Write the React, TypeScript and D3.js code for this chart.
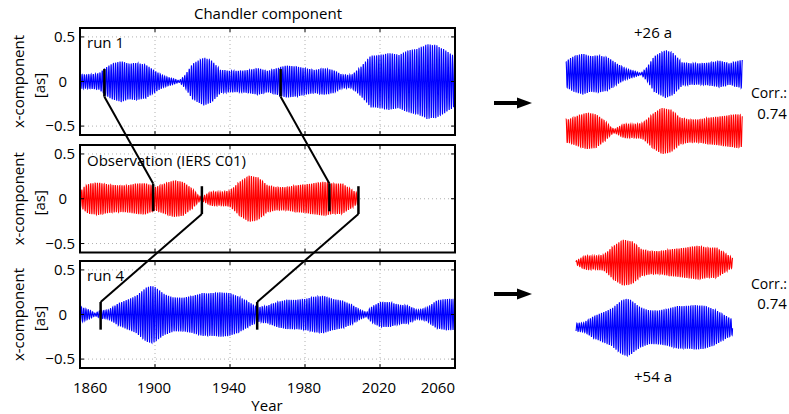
import React, { useEffect, useRef } from 'react';
import * as d3 from 'd3';

const W = 789;
const H = 414;
const FONT = "'Open Sans', sans-serif";

// Chandler wobble period in years (~433 days), monthly samples
const CHANDLER_PERIOD = 1.19;
const SAMPLE_STEP = 1 / 12;

const yearTicks = [1860, 1900, 1940, 1980, 2020, 2060];
const valueTicks = [-0.5, 0, 0.5];

// envelope (amplitude in [as])
const run1Years = [1860, 1865, 1870, 1874, 1877, 1882, 1886, 1890, 1895, 1900, 1905, 1910, 1913, 1916, 1920, 1926, 1930, 1935, 1940, 1945, 1950, 1955, 1960, 1965, 1970, 1975, 1980, 1985, 1990, 1995, 2000, 2005, 2010, 2015, 2020, 2025, 2030, 2035, 2040, 2045, 2050, 2055, 2060];
const run1Amp = [0.08, 0.08, 0.09, 0.16, 0.2, 0.23, 0.2, 0.21, 0.19, 0.12, 0.06, 0.03, 0.01, 0.07, 0.2, 0.27, 0.24, 0.13, 0.12, 0.12, 0.13, 0.15, 0.12, 0.15, 0.18, 0.17, 0.15, 0.13, 0.15, 0.13, 0.075, 0.075, 0.17, 0.29, 0.3, 0.32, 0.3, 0.35, 0.37, 0.42, 0.41, 0.35, 0.28];

const obsYears = [1860, 1862, 1865, 1870, 1875, 1880, 1885, 1890, 1895, 1900, 1905, 1910, 1915, 1920, 1923, 1925, 1930, 1935, 1940, 1945, 1950, 1955, 1960, 1965, 1970, 1975, 1980, 1985, 1990, 1995, 2000, 2005, 2008.5];
const obsAmp = [0.075, 0.13, 0.17, 0.18, 0.16, 0.15, 0.15, 0.17, 0.175, 0.13, 0.17, 0.205, 0.19, 0.11, 0.04, 0.02, 0.08, 0.075, 0.09, 0.19, 0.26, 0.24, 0.15, 0.13, 0.13, 0.15, 0.16, 0.175, 0.19, 0.17, 0.17, 0.1, 0.055];

const run4Years = [1860, 1865, 1868, 1871, 1875, 1878, 1880, 1885, 1890, 1895, 1898, 1900, 1905, 1910, 1915, 1920, 1925, 1930, 1935, 1940, 1945, 1950, 1955, 1960, 1965, 1970, 1975, 1980, 1985, 1990, 1995, 2000, 2005, 2010, 2013, 2015, 2020, 2025, 2030, 2035, 2040, 2045, 2050, 2055, 2060];
const run4Amp = [0.09, 0.05, 0.015, 0.045, 0.05, 0.09, 0.12, 0.165, 0.21, 0.3, 0.325, 0.31, 0.23, 0.19, 0.19, 0.21, 0.24, 0.24, 0.25, 0.24, 0.2, 0.14, 0.08, 0.1, 0.14, 0.165, 0.165, 0.175, 0.2, 0.21, 0.175, 0.155, 0.11, 0.045, 0.025, 0.08, 0.14, 0.14, 0.11, 0.1, 0.05, 0.075, 0.155, 0.175, 0.175];

// matched epochs (obs = run + shift)
const run1Marks = [1873, 1967];
const obsMarks1 = [1899, 1993];
const obsMarks4 = [1925, 2008.5];
const run4Marks = [1871, 1954.5];

type Pt = { t: number; v: number };

const buildSeries = (years: number[], amps: number[], phase: number): Pt[] => {
  const env = d3.scaleLinear().domain(years).range(amps).clamp(true);
  const t0 = years[0];
  const t1 = years[years.length - 1];
  return d3.range(t0, t1 + 0.001, SAMPLE_STEP).map((t) => ({
    t,
    v: env(t) * Math.cos((2 * Math.PI * (t - 1860)) / CHANDLER_PERIOD + phase),
  }));
};

const App = () => {
  const ref = useRef<SVGSVGElement>(null);

  useEffect(() => {
    const svg = d3.select(ref.current);
    svg.selectAll('*').remove();

    const run1 = buildSeries(run1Years, run1Amp, 0.3);
    const obs = buildSeries(obsYears, obsAmp, 1.1);
    const run4 = buildSeries(run4Years, run4Amp, 2.0);

    const x = d3.scaleLinear().domain([1860, 2060]).range([80, 455]);

    const panels = [
      { label: 'run 1', top: 28, bottom: 135, data: run1, color: '#0000ff' },
      { label: 'Observation (IERS C01)', top: 145, bottom: 252.5, data: obs, color: '#ff0000' },
      { label: 'run 4', top: 261, bottom: 368, data: run4, color: '#0000ff' },
    ];

    const ys = panels.map((p) => d3.scaleLinear().domain([-0.6, 0.6]).range([p.bottom, p.top]));

    svg.append('text')
      .attr('x', 268).attr('y', 19)
      .attr('text-anchor', 'middle')
      .style('font-size', '15px').style('font-family', FONT)
      .text('Chandler component');

    panels.forEach((p, i) => {
      const y = ys[i];
      const g = svg.append('g');

      // grid
      g.selectAll('.vg').data(yearTicks.slice(1, -1)).enter().append('line')
        .attr('x1', (d) => x(d)).attr('x2', (d) => x(d))
        .attr('y1', p.top).attr('y2', p.bottom)
        .attr('stroke', '#b0b0b0').attr('stroke-dasharray', '1,3');
      g.selectAll('.hg').data(valueTicks).enter().append('line')
        .attr('x1', 80).attr('x2', 455)
        .attr('y1', (d) => y(d)).attr('y2', (d) => y(d))
        .attr('stroke', '#b0b0b0').attr('stroke-dasharray', '1,3');

      // signal
      const line = d3.line<Pt>().x((d) => x(d.t)).y((d) => y(d.v));
      g.append('path')
        .datum(p.data)
        .attr('d', line)
        .attr('fill', 'none')
        .attr('stroke', p.color)
        .attr('stroke-width', 1.1);

      // ticks
      g.selectAll('.yt').data(valueTicks).enter().append('path')
        .attr('d', (d) => `M80,${y(d)}h4M455,${y(d)}h-4`)
        .attr('stroke', '#000');
      g.selectAll('.xt').data(yearTicks).enter().append('path')
        .attr('d', (d) => `M${x(d)},${p.bottom}v-4M${x(d)},${p.top}v4`)
        .attr('stroke', '#000');

      // box
      g.append('rect')
        .attr('x', 80).attr('y', p.top)
        .attr('width', 375).attr('height', p.bottom - p.top)
        .attr('fill', 'none').attr('stroke', '#000').attr('stroke-width', 2);

      g.append('text')
        .attr('x', 87).attr('y', p.top + (i === 1 ? 21 : 20))
        .style('font-size', '15px').style('font-family', FONT)
        .text(p.label);

      g.selectAll('.yl').data(valueTicks).enter().append('text')
        .attr('x', (d) => (d === 0 ? 67 : 75))
        .attr('y', (d) => y(d))
        .attr('dy', '0.36em')
        .attr('text-anchor', 'end')
        .style('font-size', '15px').style('font-family', FONT)
        .text((d) => (d === 0 ? '0' : d3.format('.1f')(d)));

      const mid = (p.top + p.bottom) / 2;
      g.append('text')
        .attr('transform', `translate(19,${mid}) rotate(-90)`)
        .attr('text-anchor', 'middle').attr('dy', '0.35em')
        .style('font-size', '15px').style('font-family', FONT)
        .text('x-component');
      g.append('text')
        .attr('transform', `translate(40,${mid + 4}) rotate(-90)`)
        .attr('text-anchor', 'middle').attr('dy', '0.35em')
        .style('font-size', '15px').style('font-family', FONT)
        .text('[as]');
    });

    // x axis labels
    svg.selectAll('.xl').data(yearTicks).enter().append('text')
      .attr('x', (d, i) => (i === 0 ? x(d) - 7 : i === yearTicks.length - 1 ? x(d) : x(d) - 1))
      .attr('y', 393)
      .attr('text-anchor', (d, i) => (i === 0 ? 'start' : i === yearTicks.length - 1 ? 'end' : 'middle'))
      .style('font-size', '15px').style('font-family', FONT)
      .text((d) => d);
    svg.append('text')
      .attr('x', 267).attr('y', 411)
      .attr('text-anchor', 'middle')
      .style('font-size', '15px').style('font-family', FONT)
      .text('Year');

    // connectors
    const links = svg.append('g').attr('stroke', '#000').attr('fill', 'none');
    const mark = (px: number, y: d3.ScaleLinear<number, number>, hi: number, lo: number) =>
      links.append('line')
        .attr('x1', px).attr('x2', px).attr('y1', y(hi)).attr('y2', y(lo))
        .attr('stroke-width', 2.5);

    run1Marks.forEach((a, k) => {
      const b = obsMarks1[k];
      mark(x(a), ys[0], 0.14, -0.17);
      mark(x(b), ys[1], 0.17, -0.14);
      links.append('line')
        .attr('x1', x(a)).attr('y1', ys[0](-0.17))
        .attr('x2', x(b)).attr('y2', ys[1](0.17))
        .attr('stroke-width', 2);
    });
    obsMarks4.forEach((a, k) => {
      const b = run4Marks[k];
      mark(x(a), ys[1], 0.14, -0.17);
      mark(x(b), ys[2], 0.14, -0.17);
      links.append('line')
        .attr('x1', x(a)).attr('y1', ys[1](-0.17))
        .attr('x2', x(b)).attr('y2', ys[2](0.14))
        .attr('stroke-width', 2);
    });

    // right side: shifted comparisons
    const pxPerYear = (x(2060) - x(1860)) / 200;
    const pxPerUnit = ys[0](0) - ys[0](1);
    const snippet = (data: Pt[], range: number[], left: number, zeroY: number, color: string) => {
      const sx = d3.scaleLinear().domain(range).range([left, left + (range[1] - range[0]) * pxPerYear]);
      const sy = d3.scaleLinear().domain([0, 1]).range([zeroY, zeroY - pxPerUnit]);
      const part = data.filter((d) => d.t >= range[0] && d.t <= range[1]);
      svg.append('path')
        .datum(part)
        .attr('d', d3.line<Pt>().x((d) => sx(d.t)).y((d) => sy(d.v)))
        .attr('fill', 'none')
        .attr('stroke', color)
        .attr('stroke-width', 1.1);
    };

    snippet(run1, [run1Marks[0], run1Marks[1]], 566, 74, '#0000ff');
    snippet(obs, [obsMarks1[0], obsMarks1[1]], 566, 131, '#ff0000');
    snippet(obs, [obsMarks4[0], obsMarks4[1]], 576, 262.7, '#ff0000');
    snippet(run4, [run4Marks[0], run4Marks[1]], 576, 327.3, '#0000ff');

    const arrow = (ay: number) => {
      svg.append('line')
        .attr('x1', 494).attr('x2', 520).attr('y1', ay).attr('y2', ay)
        .attr('stroke', '#000').attr('stroke-width', 4);
      svg.append('path')
        .attr('d', `M517,${ay - 5.5}L532,${ay}L517,${ay + 5.5}Z`)
        .attr('fill', '#000');
    };
    arrow(103);
    arrow(294);

    const txt = (tx: number, ty: number, s: string, anchor = 'middle', size = 15) =>
      svg.append('text')
        .attr('x', tx).attr('y', ty)
        .attr('text-anchor', anchor)
        .style('font-size', `${size}px`).style('font-family', FONT)
        .text(s);

    txt(653, 38, '+26 a');
    txt(751, 98, 'Corr.:', 'start', 14);
    txt(772, 119, '0.74');
    txt(653, 382, '+54 a');
    txt(751, 289, 'Corr.:', 'start', 14);
    txt(772, 309, '0.74');
  }, []);

  return (
    <svg ref={ref} width={W} height={H} style={{ position: 'absolute', left: 0, top: 0, background: '#fff' }} />
  );
};

export default App;
